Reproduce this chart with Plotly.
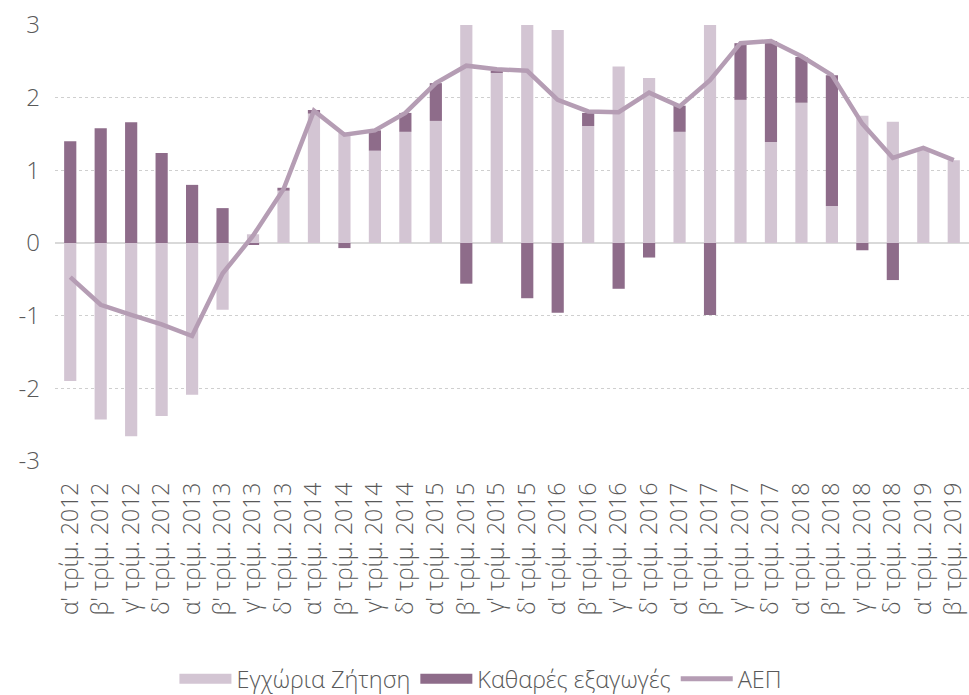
import plotly.graph_objects as go

categories = [
    "α' τρίμ. 2012", "β' τρίμ. 2012", "γ' τρίμ. 2012", "δ' τρίμ. 2012",
    "α' τρίμ. 2013", "β' τρίμ. 2013", "γ' τρίμ. 2013", "δ' τρίμ. 2013",
    "α' τρίμ. 2014", "β' τρίμ. 2014", "γ' τρίμ. 2014", "δ' τρίμ. 2014",
    "α' τρίμ. 2015", "β' τρίμ. 2015", "γ' τρίμ. 2015", "δ' τρίμ. 2015",
    "α' τρίμ. 2016", "β' τρίμ. 2016", "γ' τρίμ. 2016", "δ' τρίμ. 2016",
    "α' τρίμ. 2017", "β' τρίμ. 2017", "γ' τρίμ. 2017", "δ' τρίμ. 2017",
    "α' τρίμ. 2018", "β' τρίμ. 2018", "γ' τρίμ. 2018", "δ' τρίμ. 2018",
    "α' τρίμ. 2019", "β' τρίμ. 2019",
]

domestic_demand = [
    -1.90, -2.43, -2.66, -2.38, -2.09, -0.92, 0.12, 0.72,
    1.78, 1.52, 1.27, 1.53, 1.68, 3.00, 2.34, 3.13,
    2.93, 1.61, 2.43, 2.27, 1.53, 3.24, 1.97, 1.39,
    1.93, 0.51, 1.75, 1.67, 1.30, 1.14,
]

net_exports = [
    1.40, 1.58, 1.66, 1.24, 0.80, 0.48, -0.02, 0.04,
    0.05, -0.07, 0.28, 0.26, 0.52, -0.56, 0.03, -0.76,
    -0.96, 0.18, -0.63, -0.20, 0.36, -0.99, 0.78, 1.39,
    0.63, 1.80, -0.10, -0.51, 0.0, 0.0,
]

gdp = [
    -0.47, -0.85, -0.99, -1.12, -1.28, -0.42, 0.10, 0.74,
    1.82, 1.49, 1.55, 1.79, 2.20, 2.44, 2.39, 2.37,
    1.97, 1.81, 1.80, 2.07, 1.88, 2.24, 2.75, 2.78,
    2.57, 2.31, 1.64, 1.17, 1.31, 1.14,
]

y_tickvals = [-3, -2, -1, 0, 1, 2, 3]
y_ticktext = ["-3", "-2", "-1", "0", "1", "2", "3"]

DD_COLOR = "#D3C5D3"
NX_COLOR = "#8E6C8A"
GDP_COLOR = "#B59DB4"

fig = go.Figure()
fig.add_trace(go.Bar(
    x=categories, y=domestic_demand, name="Εγχώρια Ζήτηση",
    marker=dict(color=DD_COLOR, line=dict(width=0)), showlegend=False,
))
fig.add_trace(go.Bar(
    x=categories, y=net_exports, name="Καθαρές εξαγωγές",
    marker=dict(color=NX_COLOR, line=dict(width=0)), showlegend=False,
))
fig.add_trace(go.Scatter(
    x=categories, y=gdp, name="ΑΕΠ", mode="lines",
    line=dict(color=GDP_COLOR, width=4.5), showlegend=False,
))
# legend entries (wide swatches like the reference)
fig.add_trace(go.Scatter(x=[None], y=[None], mode="lines", name="Εγχώρια Ζήτηση",
                         line=dict(color=DD_COLOR, width=14)))
fig.add_trace(go.Scatter(x=[None], y=[None], mode="lines", name="Καθαρές εξαγωγές",
                         line=dict(color=NX_COLOR, width=14)))
fig.add_trace(go.Scatter(x=[None], y=[None], mode="lines", name="ΑΕΠ",
                         line=dict(color=GDP_COLOR, width=5)))

fig.update_layout(
    width=969, height=695,
    barmode="relative", bargap=0.6,
    plot_bgcolor="white", paper_bgcolor="white",
    margin=dict(l=55, r=0, t=25, b=234, autoexpand=False),
    font=dict(family="Open Sans", color="#595959", weight=300),
    showlegend=True,
    legend=dict(
        orientation="h", x=0.466, xanchor="center", y=-0.5, yanchor="middle",
        font=dict(size=23.5, color="#595959", family="Open Sans", weight=300),
        traceorder="normal", itemwidth=52, tracegroupgap=0,
    ),
)
fig.update_xaxes(
    type="category", tickangle=-90, tickfont=dict(size=23, color="#595959"),
    showgrid=False, showline=False, ticks="", automargin=False,
    ticklabelstandoff=16,
)
fig.update_yaxes(
    range=[-3, 3], tickvals=y_tickvals, ticktext=y_ticktext,
    tickfont=dict(size=24, color="#595959"),
    showgrid=True, gridcolor="#CFCFCF", griddash="dot", gridwidth=1,
    zeroline=True, zerolinecolor="#D9D9D9", zerolinewidth=2,
    ticks="", ticklabelstandoff=14, automargin=False,
)

fig.write_html("out.html",
               config={"displayModeBar": False},
               post_script="document.body.style.margin='0px';document.body.style.overflow='hidden';")
